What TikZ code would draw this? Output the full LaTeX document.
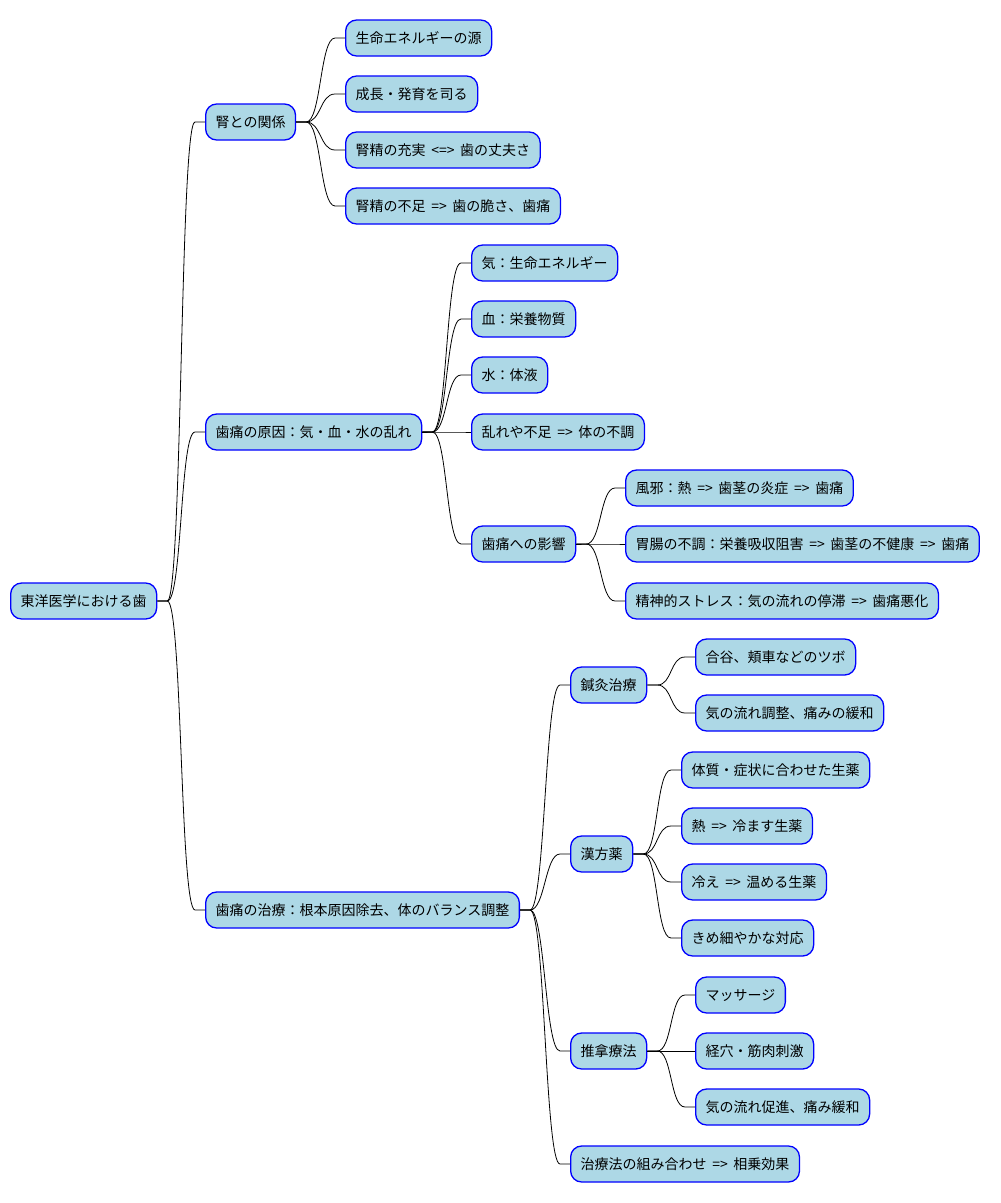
\documentclass[tikz,border=0pt]{standalone}
\usepackage{fontspec}
\setmainfont[WordSpace=1.8]{Noto Sans CJK JP}
\usetikzlibrary{calc}

\definecolor{boxfill}{HTML}{ADD8E6}
\definecolor{boxline}{HTML}{0000FF}

\tikzset{
  box/.style={draw=boxline, fill=boxfill, line width=1.3pt, rounded corners=11pt,
    minimum height=36pt, inner xsep=10pt, inner ysep=0pt, anchor=west, font=\fontsize{14}{16}\selectfont},
  branch/.style={black, line width=0.8pt}
}

\begin{document}
\begin{tikzpicture}[x=1pt, y=-1pt]
  \useasboundingbox (0,0) rectangle (1001,1203);

  % root and first level
  \node[box] (root) at (10,601) {東洋医学における歯};
  \node[box] (kid) at (205,122) {腎との関係};
  \node[box] (cause) at (205,432) {歯痛の原因：気・血・水の乱れ};
  \node[box] (treat) at (205,910) {歯痛の治療：根本原因除去、体のバランス調整};

  % kidney
  \node[box] (kid1) at (345,38) {生命エネルギーの源};
  \node[box] (kid2) at (345,94) {成長・発育を司る};
  \node[box] (kid3) at (345,150) {腎精の充実 <=> 歯の丈夫さ};
  \node[box] (kid4) at (345,206) {腎精の不足 => 歯の脆さ、歯痛};

  % causes
  \node[box] (cause1) at (471,263) {気：生命エネルギー};
  \node[box] (cause2) at (471,319) {血：栄養物質};
  \node[box] (cause3) at (471,375) {水：体液};
  \node[box] (cause4) at (471,432) {乱れや不足 => 体の不調};
  \node[box] (cause5) at (471,544) {歯痛への影響};
  \node[box] (eff1) at (625,488) {風邪：熱 => 歯茎の炎症 => 歯痛};
  \node[box] (eff2) at (625,544) {胃腸の不調：栄養吸収阻害 => 歯茎の不健康 => 歯痛};
  \node[box] (eff3) at (625,601) {精神的ストレス：気の流れの停滞 => 歯痛悪化};

  % treatment
  \node[box] (acu) at (570,685) {鍼灸治療};
  \node[box] (acu1) at (695,657) {合谷、頬車などのツボ};
  \node[box] (acu2) at (695,713) {気の流れ調整、痛みの緩和};
  \node[box] (herb) at (570,854) {漢方薬};
  \node[box] (herb1) at (681,770) {体質・症状に合わせた生薬};
  \node[box] (herb2) at (681,826) {熱 => 冷ます生薬};
  \node[box] (herb3) at (681,882) {冷え => 温める生薬};
  \node[box] (herb4) at (681,938) {きめ細やかな対応};
  \node[box] (tuina) at (570,1051) {推拿療法};
  \node[box] (tuina1) at (695,995) {マッサージ};
  \node[box] (tuina2) at (695,1051) {経穴・筋肉刺激};
  \node[box] (tuina3) at (695,1107) {気の流れ促進、痛み緩和};
  \node[box] (combo) at (570,1164) {治療法の組み合わせ => 相乗効果};

  % connectors
  \foreach \a/\b in {root/kid, root/cause, root/treat,
      kid/kid1, kid/kid2, kid/kid3, kid/kid4,
      cause/cause1, cause/cause2, cause/cause3, cause/cause4, cause/cause5,
      cause5/eff1, cause5/eff2, cause5/eff3,
      treat/acu, treat/herb, treat/tuina, treat/combo,
      acu/acu1, acu/acu2,
      herb/herb1, herb/herb2, herb/herb3, herb/herb4,
      tuina/tuina1, tuina/tuina2, tuina/tuina3}
    \draw[branch] (\a.east) -- ++(10,0)
      .. controls ($(\a.east)+(25,0)$) and ($(\b.west)+(-25,0)$) .. ($(\b.west)+(-10,0)$)
      -- (\b.west);
\end{tikzpicture}
\end{document}
